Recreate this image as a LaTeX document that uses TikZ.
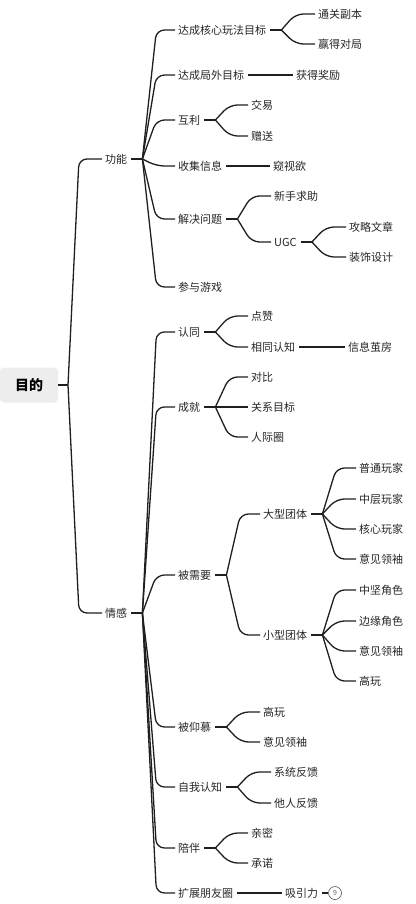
\documentclass[tikz,border=0pt]{standalone}
\usepackage{fontspec}
\setmainfont{Noto Sans CJK SC}
\usetikzlibrary{calc}
\tikzset{
  lbl/.style={anchor=west, inner sep=0pt, text=black!85, font=\fontsize{11}{13}\selectfont},
  conn/.style={draw=black!88, line width=1.3pt, rounded corners=8pt},
  rootbox/.style={fill=black!7, rounded corners=4pt, minimum width=58pt, minimum height=35pt, inner sep=0pt, text=black, font=\fontsize{14}{16}\selectfont\bfseries},
  badge/.style={circle, draw=black!60, line width=0.7pt, minimum size=13pt, inner sep=0pt, text=black!60, font=\fontsize{7}{8}\selectfont}
}
\newcommand{\mmfork}[2]{\draw[conn] (#1) -- (#1c |- #2.west) -- ([xshift=-3pt]#2.west);}
\newcommand{\mmjunc}[1]{\coordinate (#1j) at ($(#1.east)+(15,0)$); \coordinate (#1jc) at ($(#1j)+(14,0)$); \draw[conn] ([xshift=4pt]#1.east) -- (#1j);}
\newcommand{\mmline}[2]{\draw[conn] ([xshift=4pt]#1.east) -- ([xshift=-3pt]#2.west);}
\begin{document}
\begin{tikzpicture}[x=1pt, y=-1pt]
\useasboundingbox (0,0) rectangle (415,904);
% root
\node[rootbox] (r) at (29,385) {目的};
\coordinate (rj) at (68,385);
\coordinate (rjc) at (79,385);
\draw[conn] (r.east) -- (rj);
% level 1
\node[lbl] (f1) at (105,159) {功能};
\node[lbl] (f2) at (105,613) {情感};
\mmfork{rj}{f1}
\mmfork{rj}{f2}
% 功能 children
\node[lbl] (a1) at (178,30) {达成核心玩法目标};
\node[lbl] (a2) at (178,75) {达成局外目标};
\node[lbl] (a3) at (178,120) {互利};
\node[lbl] (a4) at (178,166) {收集信息};
\node[lbl] (a5) at (178,219) {解决问题};
\node[lbl] (a6) at (178,287) {参与游戏};
\mmjunc{f1}
\foreach \c in {a1,a2,a3,a4,a5,a6} {\mmfork{f1j}{\c}}
\node[lbl] (a11) at (318,14) {通关副本};
\node[lbl] (a12) at (318,44) {赢得对局};
\mmjunc{a1}
\mmfork{a1j}{a11}
\mmfork{a1j}{a12}
\node[lbl] (a21) at (296,75) {获得奖励};
\mmline{a2}{a21}
\node[lbl] (a31) at (251,105) {交易};
\node[lbl] (a32) at (251,136) {赠送};
\mmjunc{a3}
\mmfork{a3j}{a31}
\mmfork{a3j}{a32}
\node[lbl] (a41) at (273,166) {窥视欲};
\mmline{a4}{a41}
\node[lbl] (a51) at (274,196) {新手求助};
\node[lbl] (a52) at (274,242) {UGC};
\mmjunc{a5}
\mmfork{a5j}{a51}
\mmfork{a5j}{a52}
\node[lbl] (a521) at (349,227) {攻略文章};
\node[lbl] (a522) at (349,257) {装饰设计};
\mmjunc{a52}
\mmfork{a52j}{a521}
\mmfork{a52j}{a522}
% 情感 children
\node[lbl] (b1) at (178,332) {认同};
\node[lbl] (b2) at (178,407) {成就};
\node[lbl] (b3) at (178,575) {被需要};
\node[lbl] (b4) at (178,727) {被仰慕};
\node[lbl] (b5) at (178,787) {自我认知};
\node[lbl] (b6) at (178,848) {陪伴};
\node[lbl] (b7) at (178,893) {扩展朋友圈};
\mmjunc{f2}
\foreach \c in {b1,b2,b3,b4,b5,b6,b7} {\mmfork{f2j}{\c}}
% 认同
\node[lbl] (b11) at (251,316) {点赞};
\node[lbl] (b12) at (251,347) {相同认知};
\mmjunc{b1}
\mmfork{b1j}{b11}
\mmfork{b1j}{b12}
\node[lbl] (b121) at (348,347) {信息茧房};
\mmline{b12}{b121}
% 成就
\node[lbl] (b21) at (251,377) {对比};
\node[lbl] (b22) at (251,407) {关系目标};
\node[lbl] (b23) at (251,437) {人际圈};
\mmjunc{b2}
\foreach \c in {b21,b22,b23} {\mmfork{b2j}{\c}}
% 被需要
\node[lbl] (b31) at (263,514) {大型团体};
\node[lbl] (b32) at (263,635) {小型团体};
\mmjunc{b3}
\mmfork{b3j}{b31}
\mmfork{b3j}{b32}
\node[lbl] (b311) at (359,468) {普通玩家};
\node[lbl] (b312) at (359,499) {中层玩家};
\node[lbl] (b313) at (359,529) {核心玩家};
\node[lbl] (b314) at (359,559) {意见领袖};
\mmjunc{b31}
\foreach \c in {b311,b312,b313,b314} {\mmfork{b31j}{\c}}
\node[lbl] (b321) at (359,590) {中坚角色};
\node[lbl] (b322) at (359,621) {边缘角色};
\node[lbl] (b323) at (359,651) {意见领袖};
\node[lbl] (b324) at (359,681) {高玩};
\mmjunc{b32}
\foreach \c in {b321,b322,b323,b324} {\mmfork{b32j}{\c}}
% 被仰慕
\node[lbl] (b41) at (263,712) {高玩};
\node[lbl] (b42) at (263,742) {意见领袖};
\mmjunc{b4}
\mmfork{b4j}{b41}
\mmfork{b4j}{b42}
% 自我认知
\node[lbl] (b51) at (274,772) {系统反馈};
\node[lbl] (b52) at (274,803) {他人反馈};
\mmjunc{b5}
\mmfork{b5j}{b51}
\mmfork{b5j}{b52}
% 陪伴
\node[lbl] (b61) at (251,833) {亲密};
\node[lbl] (b62) at (251,863) {承诺};
\mmjunc{b6}
\mmfork{b6j}{b61}
\mmfork{b6j}{b62}
% 扩展朋友圈
\node[lbl] (b71) at (285,893) {吸引力};
\mmline{b7}{b71}
\node[badge] (bd) at (335,893) {9};
\draw[conn] ([xshift=4pt]b71.east) -- (bd.west);
\end{tikzpicture}
\end{document}
